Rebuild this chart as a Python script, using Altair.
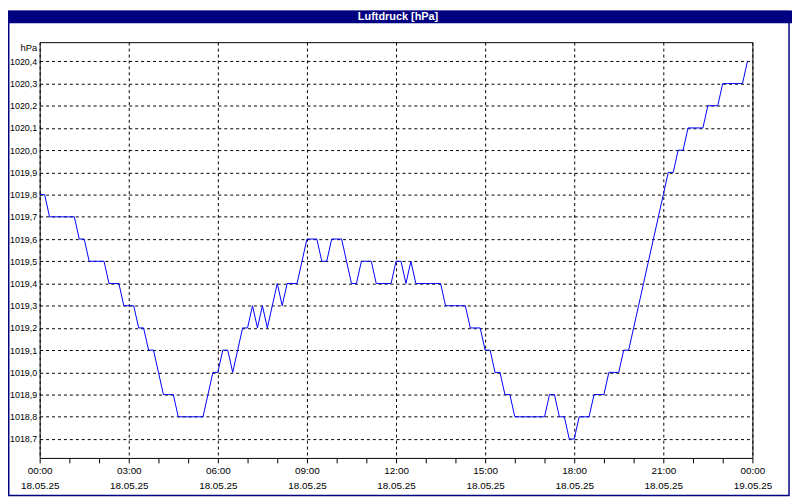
import altair as alt
import pandas as pd

# Luftdruck in hPa, one reading every 10 minutes from 18.05.25 00:00
pressure = [
    1019.8, 1019.8, 1019.7, 1019.7, 1019.7, 1019.7, 1019.7, 1019.7, 1019.6, 1019.6, 1019.5, 1019.5,
    1019.5, 1019.5, 1019.4, 1019.4, 1019.4, 1019.3, 1019.3, 1019.3, 1019.2, 1019.2, 1019.1, 1019.1,
    1019.0, 1018.9, 1018.9, 1018.9, 1018.8, 1018.8, 1018.8, 1018.8, 1018.8, 1018.8, 1018.9, 1019.0,
    1019.0, 1019.1, 1019.1, 1019.0, 1019.1, 1019.2, 1019.2, 1019.3, 1019.2, 1019.3, 1019.2, 1019.3,
    1019.4, 1019.3, 1019.4, 1019.4, 1019.4, 1019.5, 1019.6, 1019.6, 1019.6, 1019.5, 1019.5, 1019.6,
    1019.6, 1019.6, 1019.5, 1019.4, 1019.4, 1019.5, 1019.5, 1019.5, 1019.4, 1019.4, 1019.4, 1019.4,
    1019.5, 1019.5, 1019.4, 1019.5, 1019.4, 1019.4, 1019.4, 1019.4, 1019.4, 1019.4, 1019.3, 1019.3,
    1019.3, 1019.3, 1019.3, 1019.2, 1019.2, 1019.2, 1019.1, 1019.1, 1019.0, 1019.0, 1018.9, 1018.9,
    1018.8, 1018.8, 1018.8, 1018.8, 1018.8, 1018.8, 1018.8, 1018.9, 1018.9, 1018.8, 1018.8, 1018.7,
    1018.7, 1018.8, 1018.8, 1018.8, 1018.9, 1018.9, 1018.9, 1019.0, 1019.0, 1019.0, 1019.1, 1019.1,
    1019.2, 1019.3, 1019.4, 1019.5, 1019.6, 1019.7, 1019.8, 1019.9, 1019.9, 1020.0, 1020.0, 1020.1,
    1020.1, 1020.1, 1020.1, 1020.2, 1020.2, 1020.2, 1020.3, 1020.3, 1020.3, 1020.3, 1020.3, 1020.4,
]

y_ticks = [1018.7, 1018.8, 1018.9, 1019.0, 1019.1, 1019.2, 1019.3, 1019.4, 1019.5,
           1019.6, 1019.7, 1019.8, 1019.9, 1020.0, 1020.1, 1020.2, 1020.3, 1020.4]
y_domain = [1018.615, 1020.486]
title_text = "Luftdruck [hPa]"
unit_text = "hPa"

times = pd.date_range("2025-05-18 00:00", periods=len(pressure), freq="10min")
df = pd.DataFrame({"time": times, "hPa": pressure})

hour_ticks = [alt.DateTime(year=2025, month=5, date=18, hours=h) for h in range(24)] + \
             [alt.DateTime(year=2025, month=5, date=19, hours=0)]
x_domain = [alt.DateTime(year=2025, month=5, date=18, hours=0),
            alt.DateTime(year=2025, month=5, date=19, hours=0)]

FONT = "Liberation Sans"
NAVY = "#000080"

x_axis = alt.Axis(
    values=hour_ticks,
    labelExpr="hours(datum.value) % 3 == 0 ? [timeFormat(datum.value, '%H:%M'), timeFormat(datum.value, '%d.%m.%y')] : ''",
    tickSize=5, tickColor="black", tickWidth=1,
    domain=False,
    grid=True, gridColor="black", gridDash=[3, 3], gridWidth=1,
    gridOpacity={"condition": {"test": "hours(datum.value) % 3 == 0", "value": 1}, "value": 0},
    labelFlush=False, labelOverlap=False, labelBound=False,
    labelPadding=3, labelLineHeight=14.5,
    labelFont=FONT, labelFontSize=10, labelColor="black",
    title=None,
)

y_axis = alt.Axis(
    values=y_ticks,
    labelExpr="replace(format(datum.value, '.1f'), '.', ',')",
    grid=True, gridColor="black", gridDash=[3, 3], gridWidth=1,
    ticks=False, domain=False,
    labelPadding=3, labelFont=FONT, labelFontSize=9, labelColor="black",
    title=unit_text, titleAngle=0, titleX=-3, titleY=5,
    titleAlign="right", titleBaseline="middle",
    titleFont=FONT, titleFontSize=9.5, titleFontWeight="normal", titleColor="black",
)

line = alt.Chart(df).mark_line(color="#0000ff", strokeWidth=1).encode(
    x=alt.X("time:T", scale=alt.Scale(domain=x_domain), axis=x_axis),
    y=alt.Y("hPa:Q", scale=alt.Scale(domain=y_domain, nice=False, zero=False), axis=y_axis),
)

blank = alt.Data(values=[{}])

title_bar = alt.Chart(blank).mark_rect(color=NAVY).encode(
    x=alt.value(-32), x2=alt.value(760), y=alt.value(-32), y2=alt.value(-19)
)
title_label = alt.Chart(blank).mark_text(
    text=title_text, color="white", font=FONT, fontSize=11, fontWeight="bold",
    align="center", baseline="middle"
).encode(x=alt.value(362), y=alt.value(-25))

frame = alt.Chart(blank).mark_rect(fill=None, stroke=NAVY, strokeWidth=1.5).encode(
    x=alt.value(-31.25), x2=alt.value(757), y=alt.value(-31), y2=alt.value(458)
)

chart = alt.layer(frame, title_bar, title_label, line).properties(
    width=720, height=420,
    autosize=alt.AutoSizeParams(type="none"),
    padding={"left": 32, "top": 32, "right": 40, "bottom": 40},
    background="white",
).configure_view(stroke="black", strokeWidth=1)

chart.save("out.html", embed_options={"renderer": "svg", "actions": False})
